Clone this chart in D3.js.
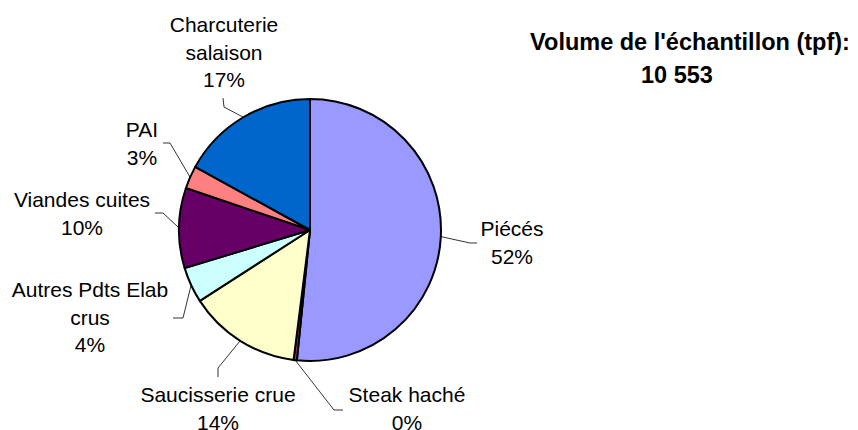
<!DOCTYPE html>
<html>
<head>
<meta charset="utf-8">
<script src="https://cdn.jsdelivr.net/npm/d3@7"></script>
<style>
  body { margin: 0; background: #fff; }
  svg { display: block; font-family: "Liberation Sans", Arial, sans-serif; }
</style>
</head>
<body>
<div id="chart"></div>
<script>
// Share of sample (tpf) by product type
const categories = ['Piécés', 'Steak haché', 'Saucisserie crue', 'Autres Pdts Elab crus', 'Viandes cuites', 'PAI', 'Charcuterie salaison'];
const shares = [51.6, 0.4, 13.9, 4.4, 9.9, 2.8, 17.0];
const labelLines = [['Piécés'], ['Steak haché'], ['Saucisserie crue'], ['Autres Pdts Elab', 'crus'], ['Viandes cuites'], ['PAI'], ['Charcuterie', 'salaison']];
const titleText = "Volume de l'échantillon (tpf):";
const sampleVolume = '10 553';

// Excel default pie colours
const colors = ['#9999FF', '#993366', '#FFFFCC', '#CCFFFF', '#660066', '#FF8080', '#0066CC'];

// label layout: text centre x, first baseline y, leader elbow and end
const labelLayout = [
    { x: 512, y: 236, elbow: [470, 243], end: [477, 243] },
    { x: 407, y: 402, elbow: [334, 410], end: [343, 410] },
    { x: 218, y: 402, elbow: [218, 368], end: [218, 377] },
    { x: 90, y: 297, elbow: [183, 318], end: [173, 318] },
    { x: 82, y: 207, elbow: [163, 213], end: [155, 213] },
    { x: 142, y: 137, elbow: [170, 143], end: [163, 143] },
    { x: 224, y: 32, elbow: [224, 107], end: [223, 98] }
];

const width = 858, height = 430;
const cx = 310, cy = 230, radius = 131;
const lineH = 27.5;

const svg = d3.select('#chart').append('svg')
    .attr('width', width)
    .attr('height', height);

const data = categories.map((c, i) => ({ name: c, value: shares[i], i }));

const pie = d3.pie().value(d => d.value).sort(null);
const arc = d3.arc().innerRadius(0).outerRadius(radius);
const arcs = pie(data);

const g = svg.append('g').attr('transform', `translate(${cx},${cy})`);

g.selectAll('path.slice')
    .data(arcs)
    .join('path')
    .attr('class', 'slice')
    .attr('d', arc)
    .attr('fill', d => colors[d.data.i])
    .attr('stroke', '#000')
    .attr('stroke-width', 2)
    .attr('stroke-linejoin', 'round');

const pct = d3.format('.0%');

// leader lines
svg.append('g').selectAll('polyline')
    .data(arcs)
    .join('polyline')
    .attr('fill', 'none')
    .attr('stroke', '#000')
    .attr('stroke-width', 0.8)
    .attr('points', d => {
        const mid = (d.startAngle + d.endAngle) / 2;
        const p0 = [cx + radius * Math.sin(mid), cy - radius * Math.cos(mid)];
        const L = labelLayout[d.data.i];
        return [p0, L.elbow, L.end].map(p => p.join(',')).join(' ');
    });

// labels
const labels = svg.append('g').selectAll('text')
    .data(arcs)
    .join('text')
    .attr('text-anchor', 'middle')
    .attr('font-size', 21)
    .attr('fill', '#000')
    .attr('x', d => labelLayout[d.data.i].x)
    .attr('y', d => labelLayout[d.data.i].y);

labels.each(function(d) {
    const t = d3.select(this);
    const L = labelLayout[d.data.i];
    const lines = labelLines[d.data.i].concat([pct(d.data.value / 100)]);
    lines.forEach((s, k) => {
        t.append('tspan')
            .attr('x', L.x)
            .attr('y', L.y + k * lineH)
            .text(s);
    });
});

// sample volume note
svg.append('text')
    .attr('x', 690)
    .attr('y', 50)
    .attr('text-anchor', 'middle')
    .attr('font-size', 23.5)
    .attr('font-weight', 'bold')
    .text(titleText);

svg.append('text')
    .attr('x', 677)
    .attr('y', 83)
    .attr('text-anchor', 'middle')
    .attr('font-size', 23.5)
    .attr('font-weight', 'bold')
    .text(sampleVolume);
</script>
</body>
</html>
